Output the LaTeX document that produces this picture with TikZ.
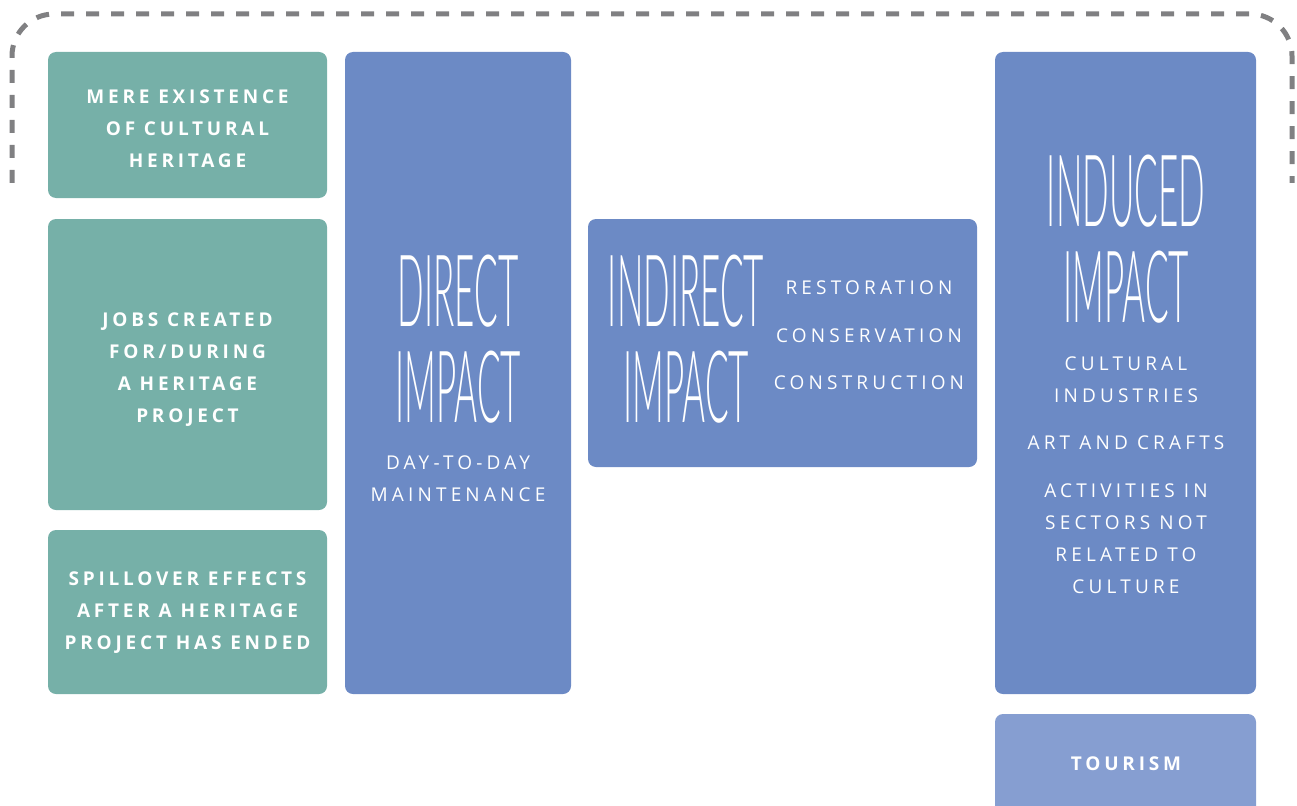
\documentclass[tikz,border=0pt]{standalone}
\usepackage{fontspec}
\setmainfont{Open Sans}
\newfontfamily\titlefont[FakeStretch=0.35]{Lato Light}
\newfontfamily\labfont[LetterSpace=20]{Open Sans}
\newfontfamily\blabfont[LetterSpace=22]{Open Sans}
\definecolor{cgreen}{HTML}{76B0A8}
\definecolor{cblue}{HTML}{6C8AC5}
\definecolor{clight}{HTML}{869ED1}
\definecolor{cdash}{HTML}{808082}
\begin{document}
\begin{tikzpicture}[x=1pt,y=-1pt,
  gbox/.style={fill=cgreen, rounded corners=8pt, inner sep=0pt, minimum width=279pt},
  bbox/.style={fill=cblue, rounded corners=8pt, inner sep=0pt},
  gtext/.style={text=white, align=center, inner sep=0pt, font=\labfont\bfseries\fontsize{19}{32}\selectfont},
  btext/.style={text=white, align=center, inner sep=0pt, font=\blabfont\fontsize{19}{32}\selectfont},
  title/.style={text=white, align=center, inner sep=0pt, font=\titlefont\fontsize{100}{96}\selectfont}]
\useasboundingbox (0,0) rectangle (1297,805);
\clip (0,0) rectangle (1297,805);
% dashed frame
\draw[cdash, line width=5pt, dash pattern=on 13pt off 12pt, rounded corners=42pt]
  (12,183) -- (12,14) -- (1292,14) -- (1292,183);
% green boxes
\node[gbox, minimum height=146pt] (g1) at (187.5,125) {};
\node[gtext] (g1t) at (187.5,129) {MERE EXISTENCE\\OF CULTURAL\\HERITAGE};
\node[gbox, minimum height=291pt] (g2) at (187.5,364.5) {};
\node[gtext] (g2t) at (187.5,369.5) {JOBS CREATED\\FOR/DURING\\A HERITAGE\\PROJECT};
\node[gbox, minimum height=164pt] (g3) at (187.5,612) {};
\node[gtext] (g3t) at (187.5,613) {SPILLOVER EFFECTS\\AFTER A HERITAGE\\PROJECT HAS ENDED};
% direct
\node[bbox, minimum width=226pt, minimum height=642pt] (direct) at (458,373) {};
\node[title] (directT) at (458,339) {DIRECT\\IMPACT};
\node[btext] (directS) at (458,479) {DAY-TO-DAY\\MAINTENANCE};
% indirect
\node[bbox, minimum width=389pt, minimum height=248pt] (indirect) at (782.5,343) {};
\node[title] (indirectT) at (686,339) {INDIRECT\\IMPACT};
\node[btext, font=\blabfont\fontsize{19}{47.5}\selectfont] (indirectS) at (869,335.5) {RESTORATION\\CONSERVATION\\CONSTRUCTION};
% induced
\node[bbox, minimum width=261pt, minimum height=642pt] (induced) at (1125.5,373) {};
\node[title] (inducedT) at (1126,239) {INDUCED\\IMPACT};
\node[btext] (ind1) at (1126,380) {CULTURAL\\INDUSTRIES};
\node[btext] (ind2) at (1126,443) {ART AND CRAFTS};
\node[btext] (ind3) at (1126,539) {ACTIVITIES IN\\SECTORS NOT\\RELATED TO\\CULTURE};
% tourism
\node[fill=clight, rounded corners=8pt, minimum width=261pt, minimum height=106pt, inner sep=0pt] (tour) at (1125.5,767) {};
\node[text=white, inner sep=0pt, font=\labfont\bfseries\fontsize{19}{32}\selectfont] (tourT) at (1126,764) {TOURISM};
\end{tikzpicture}
\end{document}
